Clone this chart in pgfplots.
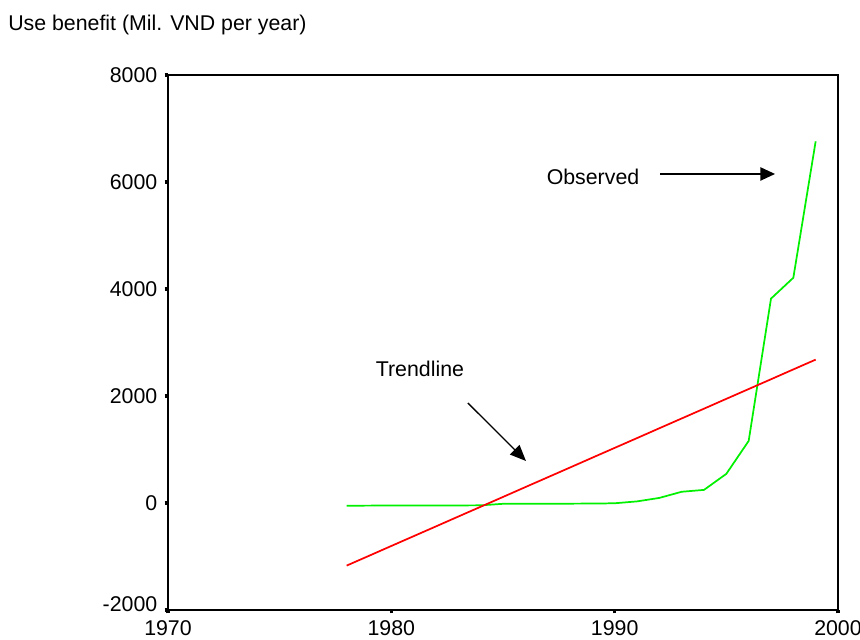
\documentclass[border=0pt]{standalone}
\usepackage{fontspec}
\setmainfont{Liberation Sans}
\usepackage{pgfplots}
\pgfplotsset{compat=1.18}
\usetikzlibrary{arrows.meta}

\begin{document}
\begin{tikzpicture}
\fontsize{16}{19}\selectfont
\begin{axis}[
  scale only axis,
  width=502.5pt, height=401.25pt,
  xmin=1970, xmax=2000,
  ymin=-2000, ymax=8000,
  xtick={1970,1980,1990,2000},
  xticklabels={1970,1980,1990,2000},
  ytick={-2000,0,2000,4000,6000,8000},
  yticklabels={\raisebox{9pt}{-2000},0,2000,4000,6000,8000},
  tick align=outside,
  major tick length=2.5pt,
  tick style={black, line width=2.5pt},
  axis line style={line width=1.2pt},
  ticklabel style={font=\fontsize{16}{19}\selectfont},
  xtick pos=bottom, ytick pos=left,
  clip=false,
]
% Observed
\addplot[color={rgb,255:red,0;green,240;blue,0}, line width=1.3pt] coordinates {
  (1978,-50) (1979,-49) (1980,-48) (1981,-47) (1982,-46) (1983,-45) (1984,-44)
  (1985,-15) (1986,-14) (1987,-13) (1988,-12) (1989,-11) (1990,-5)
  (1991,30) (1992,95) (1993,210) (1994,245) (1995,545) (1996,1160)
  (1997,3820) (1998,4210) (1999,6760)
};
% Trendline
\addplot[color={rgb,255:red,255;green,0;blue,0}, line width=1.3pt] coordinates {
  (1978,-1170) (1979,-987) (1980,-803) (1981,-620) (1982,-437) (1983,-253)
  (1984,-70) (1985,113) (1986,297) (1987,480) (1988,663) (1989,847)
  (1990,1030) (1991,1213) (1992,1397) (1993,1580) (1994,1763) (1995,1947)
  (1996,2130) (1997,2313) (1998,2497) (1999,2680)
};
\node at (axis cs:1989.03,6093) {Observed};
\draw[line width=1pt, -{Triangle[length=11pt, width=10pt]}] (axis cs:1992.03,6150) -- (axis cs:1997.18,6150);
\node at (axis cs:1981.28,2505) {Trendline};
\draw[line width=1pt, -{Triangle[length=12pt, width=10pt]}] (axis cs:1983.43,1869) -- (axis cs:1986.03,785);
\end{axis}
\node[anchor=west, inner sep=0pt] at (-120pt,439pt) {Use benefit (Mil. VND per year)};
\pgfresetboundingbox
\useasboundingbox (-126pt,-21.75pt) rectangle (519pt,457.5pt);
\end{tikzpicture}
\end{document}
